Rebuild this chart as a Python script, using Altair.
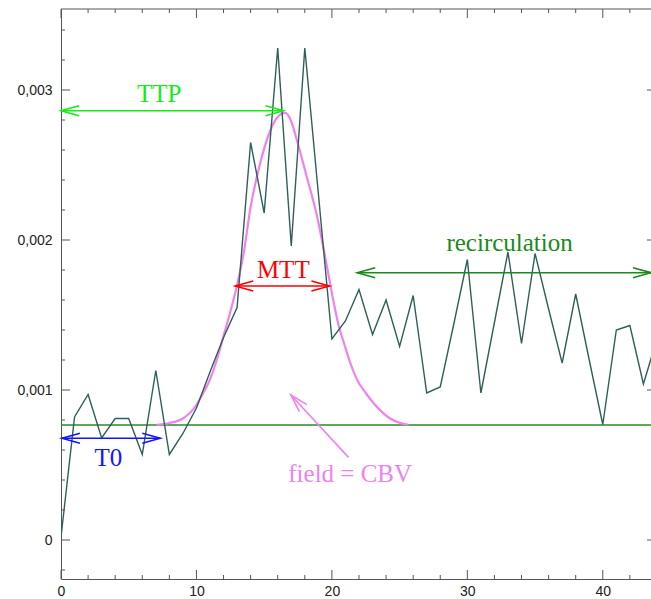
import altair as alt
import pandas as pd

# ---- data ----
t = list(range(45))
signal = [0.00002, 0.00082, 0.00097, 0.00068, 0.00081, 0.00081, 0.00057, 0.00113,
          0.00057, 0.00071, 0.00088, 0.00112, 0.00135, 0.00155, 0.00265, 0.00218,
          0.00328, 0.00196, 0.00328, 0.00231, 0.00134, 0.00146, 0.00167, 0.00137,
          0.00160, 0.00129, 0.00163, 0.00098, 0.00102, 0.00144, 0.00187, 0.00098,
          0.00145, 0.00192, 0.00131, 0.00191, 0.00154, 0.00118, 0.00164, 0.00120,
          0.00077, 0.00140, 0.00143, 0.00104, 0.00134]

fit_t = [7.05, 8.0, 9.0, 10.0, 10.5, 11.0, 11.5, 12.0, 12.5, 13.0, 13.5, 14.0, 14.7,
         15.45, 16.0, 16.55, 17.0, 17.4, 18.15, 18.9, 19.6, 20.1, 20.5, 20.9, 21.4,
         21.85, 22.5, 23.1, 24.3, 25.65]
fit_v = [0.000767, 0.00078, 0.00081, 0.00090, 0.00098, 0.00107, 0.00120, 0.00136,
         0.00152, 0.00170, 0.00192, 0.00222, 0.00251, 0.00273, 0.00282, 0.002847,
         0.00279, 0.00267, 0.00242, 0.00216, 0.00184, 0.00160, 0.00143, 0.00131,
         0.00117, 0.00107, 0.00098, 0.00091, 0.00081, 0.000767]

baseline_level = 0.000767

arrow_name = ["TTP", "MTT", "T0", "recirculation", "field"]
arrow_x1 = [0.0, 12.86, 0.07, 21.87, 21.23]
arrow_y1 = [0.002862, 0.001693, 0.000678, 0.001782, 0.000551]
arrow_x2 = [16.43, 19.82, 7.33, 43.56, 16.97]
arrow_y2 = [0.002862, 0.001693, 0.000678, 0.001782, 0.000967]
arrow_color = ["#14ec14", "#ff0000", "#1414ff", "#1a8a1a", "#ee82ee"]

head_x = [0.0, 16.43, 12.86, 19.82, 0.07, 7.33, 21.87, 43.56, 16.97]
head_y = [0.002862, 0.002862, 0.001693, 0.001693, 0.000678, 0.000678, 0.001782, 0.001782, 0.000967]
head_angle = [180, 0, 180, 0, 180, 0, 180, 0, 227]
head_color = ["#14ec14", "#14ec14", "#ff0000", "#ff0000", "#1414ff", "#1414ff",
              "#1a8a1a", "#1a8a1a", "#ee82ee"]

label_text = ["TTP", "MTT", "T0", "recirculation", "field = CBV"]
label_x = [7.25, 16.41, 3.49, 33.12, 21.35]
label_y = [0.00292, 0.001745, 0.000495, 0.001929, 0.000389]
label_color = ["#14ec14", "#ff0000", "#1414ff", "#1a8a1a", "#ee82ee"]

x_major = [0, 10, 20, 30, 40]
x_minor = [2, 4, 6, 8, 12, 14, 16, 18, 22, 24, 26, 28, 32, 34, 36, 38, 42]
y_major = [0.0, 0.001, 0.002, 0.003]
y_minor = [-0.0002, 0.0002, 0.0004, 0.0006, 0.0008, 0.0012, 0.0014, 0.0016, 0.0018,
           0.0022, 0.0024, 0.0026, 0.0028, 0.0032, 0.0034]

W, H = 590, 570
FRAME = "#555555"
xs = alt.Scale(domain=[0, 43.56], nice=False, zero=False)
ys = alt.Scale(domain=[-0.00026, 0.00354], nice=False, zero=False)

sig_df = pd.DataFrame({"x": t, "y": signal})
fit_df = pd.DataFrame({"x": fit_t, "y": fit_v})
arr_df = pd.DataFrame({"name": arrow_name, "x": arrow_x1, "y": arrow_y1,
                       "x2": arrow_x2, "y2": arrow_y2, "c": arrow_color})
head_df = pd.DataFrame({"x": head_x, "y": head_y, "a": head_angle, "c": head_color})
lab_df = pd.DataFrame({"txt": label_text, "x": label_x, "y": label_y, "c": label_color})
base_df = pd.DataFrame({"x": [0.0], "x2": [43.56], "y": [baseline_level]})
xmaj_df = pd.DataFrame({"x": x_major})
xmin_df = pd.DataFrame({"x": x_minor})
ymaj_df = pd.DataFrame({"y": y_major})
ymin_df = pd.DataFrame({"y": y_minor})
one_df = pd.DataFrame({"a": [0]})

xaxis = alt.Axis(values=x_major, title=None, grid=False, ticks=False, tickSize=0,
                 domain=True, domainColor=FRAME, domainWidth=1,
                 labelFont="Liberation Sans", labelFontSize=14, labelColor="#222222",
                 labelPadding=5, labelFlush=False)
yaxis = alt.Axis(values=y_major, title=None, grid=False, ticks=False, tickSize=0,
                 domain=True, domainColor=FRAME, domainWidth=1,
                 labelFont="Liberation Sans", labelFontSize=14, labelColor="#222222",
                 labelPadding=9,
                 labelExpr="datum.value == 0 ? '0' : replace(format(datum.value, '.3f'), '.', ',')")

baseline = alt.Chart(base_df).mark_rule(color="#2a8a2a", strokeWidth=1.5).encode(
    x=alt.X("x:Q", scale=xs, axis=xaxis),
    x2="x2:Q",
    y=alt.Y("y:Q", scale=ys, axis=yaxis),
)

signal_line = alt.Chart(sig_df).mark_line(color="#2f5f59", strokeWidth=1.4, clip=True).encode(
    x=alt.X("x:Q", scale=xs, title=None),
    y=alt.Y("y:Q", scale=ys, title=None),
)

fit_line = alt.Chart(fit_df).mark_line(color="#ee82ee", strokeWidth=2.2, interpolate="monotone").encode(
    x=alt.X("x:Q", scale=xs, title=None),
    y=alt.Y("y:Q", scale=ys, title=None),
)

arrows = alt.Chart(arr_df).mark_rule(strokeWidth=1.6).encode(
    x=alt.X("x:Q", scale=xs, title=None), x2="x2:Q",
    y=alt.Y("y:Q", scale=ys, title=None), y2="y2:Q",
    color=alt.Color("c:N", scale=None),
)

HEAD = "M-1,-0.28 L0,0 L-1,0.28"
heads = alt.Chart(head_df).mark_point(shape=HEAD, filled=False, size=1296, opacity=1,
                                      strokeWidth=1.6).encode(
    x=alt.X("x:Q", scale=xs, title=None),
    y=alt.Y("y:Q", scale=ys, title=None),
    angle=alt.Angle("a:Q", scale=None),
    color=alt.Color("c:N", scale=None),
)

labels = alt.Chart(lab_df).mark_text(font="Liberation Serif", fontSize=25,
                                     align="center", baseline="alphabetic").encode(
    x=alt.X("x:Q", scale=xs, title=None),
    y=alt.Y("y:Q", scale=ys, title=None),
    text="txt:N",
    color=alt.Color("c:N", scale=None),
)

# frame top line
top_frame = alt.Chart(one_df).mark_rule(color=FRAME, strokeWidth=1).encode(
    x=alt.value(0), x2=alt.value(W), y=alt.value(0))

# inward ticks
tick_style = dict(color=FRAME, strokeWidth=1)
xt_bot_maj = alt.Chart(xmaj_df).mark_rule(**tick_style).encode(
    x=alt.X("x:Q", scale=xs, title=None), y=alt.value(H), y2=alt.value(H - 9))
xt_bot_min = alt.Chart(xmin_df).mark_rule(**tick_style).encode(
    x=alt.X("x:Q", scale=xs, title=None), y=alt.value(H), y2=alt.value(H - 4))
xt_top_maj = alt.Chart(xmaj_df).mark_rule(**tick_style).encode(
    x=alt.X("x:Q", scale=xs, title=None), y=alt.value(0), y2=alt.value(9))
xt_top_min = alt.Chart(xmin_df).mark_rule(**tick_style).encode(
    x=alt.X("x:Q", scale=xs, title=None), y=alt.value(0), y2=alt.value(4))
yt_left_maj = alt.Chart(ymaj_df).mark_rule(**tick_style).encode(
    y=alt.Y("y:Q", scale=ys, title=None), x=alt.value(0), x2=alt.value(9))
yt_left_min = alt.Chart(ymin_df).mark_rule(**tick_style).encode(
    y=alt.Y("y:Q", scale=ys, title=None), x=alt.value(0), x2=alt.value(4))
yt_right_maj = alt.Chart(ymaj_df).mark_rule(**tick_style).encode(
    y=alt.Y("y:Q", scale=ys, title=None), x=alt.value(W - 4), x2=alt.value(W))

chart = alt.layer(
    baseline, fit_line, signal_line, arrows, heads, labels,
    top_frame, xt_bot_maj, xt_bot_min, xt_top_maj, xt_top_min,
    yt_left_maj, yt_left_min, yt_right_maj,
).properties(
    width=W, height=H,
    autosize=alt.AutoSizeParams(type="none"),
    padding={"left": 61, "top": 9, "right": 0, "bottom": 20},
    background="white",
).configure_view(stroke=None)

chart.save("out.html", embed_options={"renderer": "svg", "actions": False})
